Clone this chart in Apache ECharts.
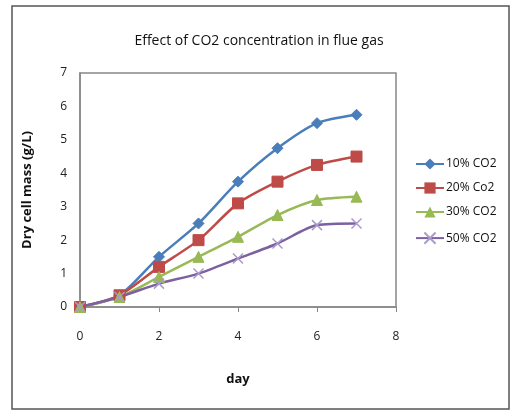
<!DOCTYPE html>
<html>
<head>
<meta charset="utf-8">
<script src="https://cdn.jsdelivr.net/npm/echarts@6/dist/echarts.min.js"></script>
<style>
  html, body { margin: 0; padding: 0; background: #fff; }
  #chart { width: 512px; height: 412px; }
</style>
</head>
<body>
<div id="chart"></div>
<script>
// days measured
var days = [0, 1, 2, 3, 4, 5, 6, 7];
// dry cell mass (g/L) per CO2 concentration
var co2_10 = [0, 0.35, 1.5, 2.5, 3.75, 4.75, 5.5, 5.75];
var co2_20 = [0, 0.35, 1.2, 2.0, 3.1, 3.75, 4.25, 4.5];
var co2_30 = [0, 0.3, 0.9, 1.5, 2.1, 2.75, 3.2, 3.3];
var co2_50 = [0, 0.3, 0.7, 1.0, 1.45, 1.9, 2.45, 2.5];
var seriesNames = ["10% CO2", "20% Co2", "30% CO2", "50% CO2"];
var xTicks = [0, 2, 4, 6, 8];
var yTicks = [0, 1, 2, 3, 4, 5, 6, 7];

var font = "Open Sans";
var chart = echarts.init(document.getElementById("chart"));

function pairs(vals) {
  return days.map(function (d, i) { return [d, vals[i]]; });
}

var crossPath = "path://M0,0L10,10M10,0L0,10";

function mkSeries(name, vals, color, symbol, size, extra) {
  var s = {
    name: name,
    type: "line",
    data: pairs(vals),
    smooth: 0.25,
    symbol: symbol,
    symbolSize: size,
    lineStyle: { color: color, width: 2.5 },
    itemStyle: { color: color, borderColor: color },
  };
  if (extra) Object.assign(s, extra);
  return s;
}

chart.setOption({
  animation: false,
  backgroundColor: "#fff",
  title: {
    text: "Effect of CO2 concentration in flue gas",
    left: 254,
    textAlign: "center",
    top: 29,
    textStyle: { fontFamily: font, fontSize: 14, fontWeight: "normal", color: "#111" },
  },
  graphic: [
    {
      type: "rect",
      shape: { x: 12, y: 6, width: 497, height: 403 },
      style: { fill: "none", stroke: "#555", lineWidth: 1.5 },
    },
  ],
  legend: {
    orient: "vertical",
    left: 410,
    top: 153,
    itemGap: 12,
    itemWidth: 28,
    itemHeight: 14,
    data: seriesNames,
    textStyle: { fontFamily: font, fontSize: 12, color: "#111", padding: [0, 0, 0, -3] },
  },
  grid: {
    left: 80,
    right: 116,
    top: 73,
    bottom: 105,
    show: true,
    borderColor: "#888",
    borderWidth: 1.5,
  },
  xAxis: {
    type: "value",
    min: 0,
    max: 8,
    interval: 2,
    name: "day",
    nameLocation: "middle",
    nameGap: 66,
    nameTextStyle: { fontFamily: font, fontSize: 13, fontWeight: "bold", color: "#111" },
    axisLine: { show: true, lineStyle: { color: "#888", width: 1.5 } },
    axisTick: { show: true, length: 5, lineStyle: { color: "#888" } },
    splitLine: { show: false },
    axisLabel: {
      fontFamily: font, fontSize: 12, color: "#222", margin: 24,
      formatter: function (v) { return xTicks.indexOf(v) >= 0 ? String(v) : ""; },
    },
  },
  yAxis: {
    type: "value",
    min: 0,
    max: 7,
    interval: 1,
    name: "Dry cell mass (g/L)",
    nameLocation: "middle",
    nameGap: 46,
    nameTextStyle: { fontFamily: font, fontSize: 13, fontWeight: "bold", color: "#111" },
    axisLine: { show: true, lineStyle: { color: "#888", width: 1.5 } },
    axisTick: { show: false },
    splitLine: { show: false },
    axisLabel: {
      fontFamily: font, fontSize: 12, color: "#222", margin: 13,
      formatter: function (v) { return yTicks.indexOf(v) >= 0 ? String(v) : ""; },
    },
  },
  series: [
    mkSeries(seriesNames[0], co2_10, "#4A7EBB", "diamond", 11),
    mkSeries(seriesNames[1], co2_20, "#BE4B48", "rect", 11),
    mkSeries(seriesNames[2], co2_30, "#98B954", "triangle", 11),
    mkSeries(seriesNames[3], co2_50, "#7D60A0", crossPath, 10, {
      itemStyle: { color: "none", borderColor: "#A99BCB", borderWidth: 1.5 },
    }),
  ],
});
</script>
</body>
</html>
